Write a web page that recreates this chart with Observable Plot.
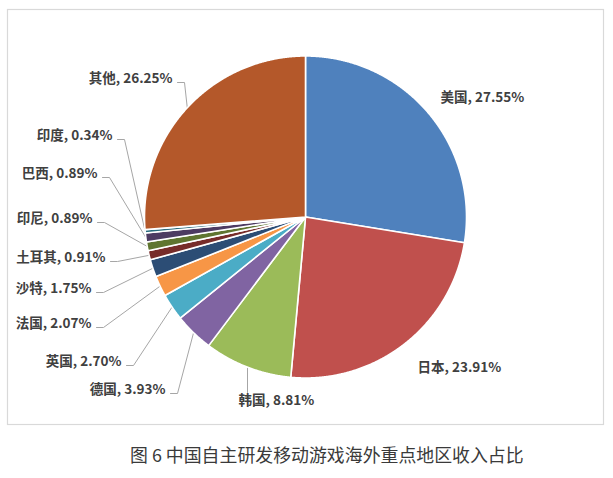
<!DOCTYPE html>
<html>
<head>
<meta charset="utf-8">
<script src="https://cdn.jsdelivr.net/npm/d3@7"></script>
<script src="https://cdn.jsdelivr.net/npm/@observablehq/plot@0.6"></script>
<style>
  html, body { margin: 0; padding: 0; background: #fff; }
  figure { margin: 0; }
  figcaption {
    font-family: "Noto Sans CJK SC", sans-serif;
    font-size: 17.9px;
    line-height: 1;
    color: #3a3a3a;
    margin: 0;
    padding-top: 16px;
    padding-left: 130px;
    text-align: left;
    white-space: nowrap;
  }
</style>
</head>
<body>
<div id="chart"></div>
<script>
// ---- data ----
const categories = ["美国", "日本", "韩国", "德国", "英国", "法国", "沙特", "土耳其", "印尼", "巴西", "印度", "其他"];
const shares = [27.55, 23.91, 8.81, 3.93, 2.70, 2.07, 1.75, 0.91, 0.89, 0.89, 0.34, 26.25];
const colors = ["#4F81BD", "#C0504D", "#9BBB59", "#8064A2", "#4BACC6", "#F79646",
                "#2C4D75", "#772C2A", "#5F7530", "#4D3B62", "#276A7C", "#B4582A"];
const captionText = "图 6 中国自主研发移动游戏海外重点地区收入占比";

// ---- label layout (pixel placement of each data label) ----
const labelX = [440, 417, 238, 165, 121, 91, 91, 105, 92, 97, 112, 172];
const labelY = [97, 367, 400, 389, 361, 323, 288, 257, 218, 173, 135, 78];
const labelAnchor = ["start", "start", "below", "end", "end", "end", "end", "end", "end", "end", "end", "end"];

// ---- geometry ----
const cx = 305, cy = 216.5, R = 161;
const pie = d3.pie().sort(null).value(d => d.share).startAngle(0).endAngle(2 * Math.PI);
const rows = categories.map((c, i) => ({name: c, share: shares[i], color: colors[i], i}));
const arcs = pie(rows);
const pt = (a, r) => ({x: cx + r * Math.sin(a), y: cy - r * Math.cos(a)});

const wedgePts = [];
arcs.forEach(a => {
  const name = a.data.name;
  wedgePts.push({name, ...pt(0, 0)});
  const n = Math.max(2, Math.ceil((a.endAngle - a.startAngle) / (Math.PI / 720)));
  for (let k = 0; k <= n; k++) {
    const t = a.startAngle + (a.endAngle - a.startAngle) * k / n;
    wedgePts.push({name, ...pt(t, R)});
  }
  wedgePts.push({name, ...pt(0, 0)});
});

const labels = arcs.map((a, i) => ({
  name: a.data.name,
  text: `${a.data.name}, ${a.data.share.toFixed(2)}%`,
  x: labelX[i], y: labelY[i], anchor: labelAnchor[i],
  mid: pt((a.startAngle + a.endAngle) / 2, R)
}));

const leaderPts = [];
labels.forEach(l => {
  if (l.anchor === "end") {
    leaderPts.push({name: l.name, x: l.x + 5, y: l.y + 4});
    leaderPts.push({name: l.name, x: l.x + 12, y: l.y + 4});
    leaderPts.push({name: l.name, x: l.mid.x, y: l.mid.y});
  } else if (l.anchor === "below") {
    leaderPts.push({name: l.name, x: l.mid.x, y: l.mid.y});
    leaderPts.push({name: l.name, x: l.mid.x, y: l.y - 8});
  }
});

const labelFont = {fontSize: 13.5, fontWeight: "bold", fill: "#404040"};

const chart = Plot.plot({
  width: 613,
  height: 430,
  marginLeft: 7, marginRight: 10, marginTop: 9, marginBottom: 6,
  x: {domain: [7, 603], axis: null},
  y: {domain: [424, 9], axis: null},
  color: {domain: categories, range: colors},
  style: {fontFamily: "'Noto Sans CJK SC', sans-serif", background: "#fff"},
  caption: captionText,
  marks: [
    Plot.frame({stroke: "#d9d9d9", strokeWidth: 1.2}),
    Plot.line(leaderPts, {x: "x", y: "y", z: "name", stroke: "#a6a6a6", strokeWidth: 1, curve: "linear"}),
    Plot.line(wedgePts, {x: "x", y: "y", z: "name", fill: "name", stroke: "white", strokeWidth: 1.6, strokeLinejoin: "round"}),
    Plot.text(labels.filter(d => d.anchor === "end"), {x: "x", y: "y", text: "text", textAnchor: "end", ...labelFont}),
    Plot.text(labels.filter(d => d.anchor !== "end"), {x: "x", y: "y", text: "text", textAnchor: "start", ...labelFont})
  ]
});
document.getElementById("chart").appendChild(chart);
</script>
</body>
</html>
